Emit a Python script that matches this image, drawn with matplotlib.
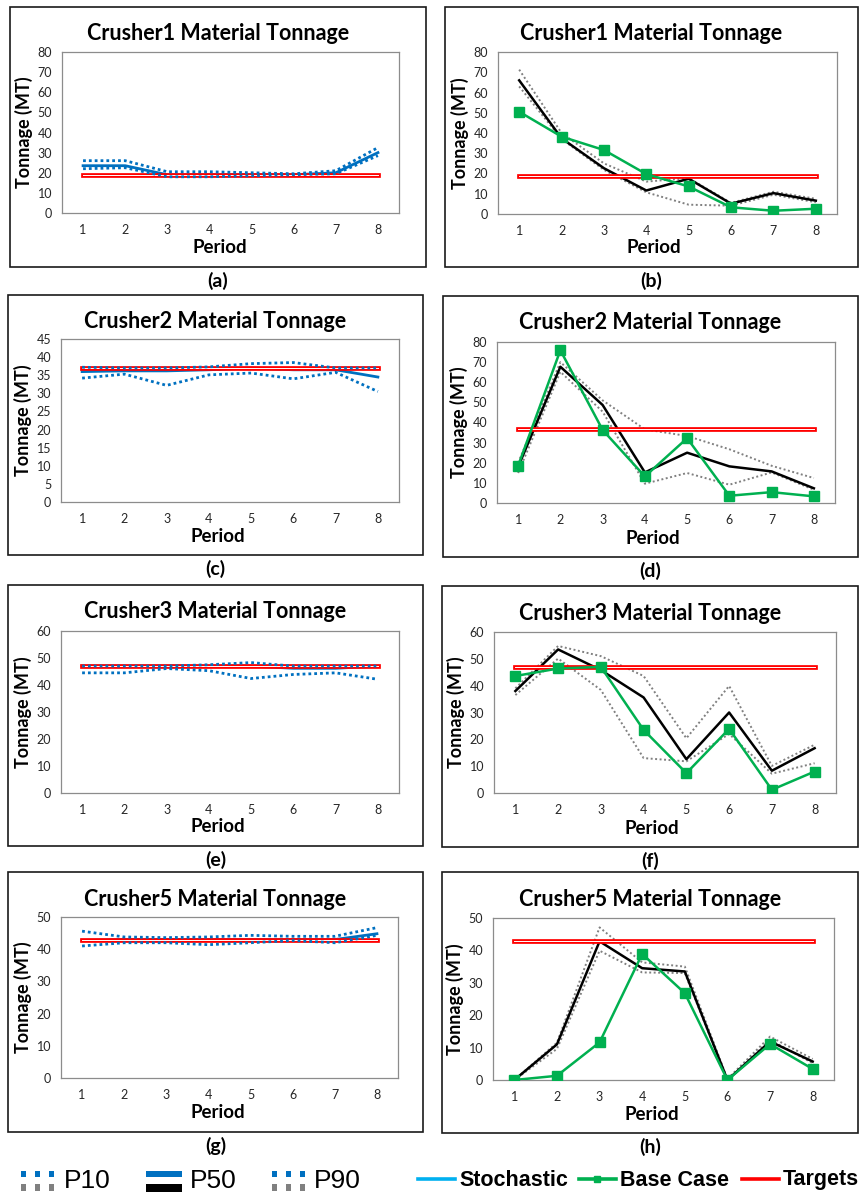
import matplotlib
matplotlib.use("Agg")
import matplotlib.pyplot as plt
from matplotlib.patches import Rectangle
from matplotlib.lines import Line2D
from matplotlib import font_manager

periods = [1, 2, 3, 4, 5, 6, 7, 8]

# Crusher1
c1_p10 = [22, 22.5, 18, 18, 18.5, 19, 19.5, 28.5]
c1_p50 = [23.5, 23.5, 19, 19, 19, 19, 20, 30]
c1_p90 = [26, 26, 20.5, 20.5, 20, 19.5, 21, 32.5]
c1_target = 19
c1_base = [50.5, 38.2, 31.6, 19.7, 13.6, 3.3, 1.6, 2.6]
c1_bc_p10 = [63, 37, 21.8, 10.7, 4.6, 4.1, 9.5, 5.8]
c1_bc_p50 = [66, 37.4, 22.6, 11.6, 17.4, 5.1, 10.3, 6.6]
c1_bc_p90 = [71.3, 40, 25, 16, 17.7, 5.5, 11, 7.5]

# Crusher2
c2_p10 = [34.2, 35.3, 32.2, 35.1, 35.6, 34, 35.8, 30.5]
c2_p50 = [36, 36.2, 36.2, 36.5, 37, 36.5, 36.5, 34.5]
c2_p90 = [37.2, 37, 37, 37.3, 38.2, 38.5, 37, 37]
c2_target = 37
c2_base = [18.5, 75.9, 36.3, 13.2, 32.2, 3.6, 5.4, 3.3]
c2_bc_p10 = [14.9, 65.2, 45.4, 9.6, 14.9, 9.1, 15.2, 6.6]
c2_bc_p50 = [18, 67.7, 48.7, 15.2, 25, 18.2, 15.7, 7.3]
c2_bc_p90 = [20, 70, 51, 36.6, 33.3, 26.7, 18.5, 12.4]

# Crusher3
c3_p10 = [44.5, 44.5, 46.1, 45.3, 42.4, 43.9, 44.5, 42.1]
c3_p50 = [47, 47, 47, 47, 47, 46.2, 46.2, 47]
c3_p90 = [47, 47, 47, 47.5, 48.3, 47, 47, 47]
c3_target = 47
c3_base = [43.6, 46.4, 47, 23.5, 7.4, 23.9, 1.2, 8]
c3_bc_p10 = [36.5, 50.1, 38.4, 13, 11.8, 22, 7.2, 11.1]
c3_bc_p50 = [38, 53.5, 45.8, 35.6, 12.6, 30, 8.3, 16.7]
c3_bc_p90 = [39, 54.8, 51, 43.6, 20.4, 39.9, 10.1, 18]

# Crusher5
c5_p10 = [41, 42, 42, 41.4, 42, 42.7, 42, 44.3]
c5_p50 = [42.7, 43, 43, 43, 43, 43, 43, 44.8]
c5_p90 = [45.6, 43.8, 43.6, 43.8, 44.3, 44, 44, 46.7]
c5_target = 43
c5_base = [0, 1.3, 11.6, 38.9, 26.8, 0, 11.1, 3.4]
c5_bc_p10 = [0, 9.6, 39.9, 33.2, 33, 0, 12.4, 5.2]
c5_bc_p50 = [0, 11, 42.8, 34.5, 33.5, 0, 11.9, 5.7]
c5_bc_p90 = [0, 11.5, 47.1, 36.3, 35, 0.3, 13.4, 6.5]

BLUE = "#0070C0"
LIGHT_BLUE = "#00B0F0"
GREEN = "#00B050"
RED = "#FF0000"
GRAY = "#808080"

W, H = 861, 1194
installed = {f.name for f in font_manager.fontManager.ttflist}
MAIN_FONT = ["Lato", "DejaVu Sans"] if "Lato" in installed else ["DejaVu Sans"]
plt.rcParams["font.family"] = MAIN_FONT

fig = plt.figure(figsize=(W / 100, H / 100), dpi=100)


def fx(x):
    return x / W


def fy(y):
    return 1 - y / H


def add_panel(box, area, title, tag, ymax, ystep):
    x0, y0, x1, y1 = box
    fig.add_artist(Rectangle((fx(x0), fy(y1)), (x1 - x0) / W, (y1 - y0) / H,
                             transform=fig.transFigure, fill=False,
                             ec="#1a1a1a", lw=1.2))
    l, t, r, b = area
    ax = fig.add_axes([fx(l), fy(b), (r - l) / W, (b - t) / H])
    ax.set_xlim(0.5, 8.5)
    ax.set_ylim(0, ymax)
    ax.set_xticks(periods)
    ax.set_yticks(range(0, ymax + 1, ystep))
    ax.tick_params(length=0, labelsize=9, colors="#262626")
    ax.tick_params(axis="y", pad=7)
    ax.tick_params(axis="x", pad=8)
    for s in ax.spines.values():
        s.set_color("#8c8c8c")
        s.set_linewidth(0.9)
    cx = (x0 + x1) / 2
    fig.text(fx(cx), fy(y0 + 27), title, ha="center", va="center",
             fontsize=15.5, fontweight="bold")
    fig.text(fx(cx + 2), fy(y1 - 19), "Period", ha="center", va="center",
             fontsize=13.5, fontweight="bold")
    fig.text(fx(l - 38), fy((t + b) / 2), "Tonnage (MT)", ha="center",
             va="center", rotation=90, fontsize=13, fontweight="bold")
    fig.text(fx(cx), fy(y1 + 14), tag, ha="center", va="center",
             fontsize=14, fontweight="bold")
    return ax


def draw_target(ax, target):
    # red line with a thin white core
    ax.plot(periods, [target] * len(periods), color=RED, lw=3.4, zorder=4)
    ax.plot(periods, [target] * len(periods), color="white", lw=0.7, zorder=4)


def draw_stochastic(ax, p10, p50, p90, target):
    ax.plot(periods, p50, color=BLUE, lw=2.0, zorder=3)
    draw_target(ax, target)
    for band in (p10, p90):
        ax.plot(periods, band, color=BLUE, lw=2.0, ls=(0, (1, 1.1)), zorder=5)


def draw_base(ax, base, p10, p50, p90, target):
    for band in (p10, p90):
        ax.plot(periods, band, color=GRAY, lw=1.4, ls=(0, (1, 1.3)), zorder=2)
    ax.plot(periods, p50, color="black", lw=1.8, zorder=3)
    draw_target(ax, target)
    ax.plot(periods, base, color=GREEN, lw=1.8, marker="s", ms=6.5,
            zorder=5)


# left column: stochastic schedule, right column: base case schedule
ax = add_panel((10, 7, 426, 267), (62, 52, 399, 213),
               "Crusher1 Material Tonnage", "(a)", 80, 10)
draw_stochastic(ax, c1_p10, c1_p50, c1_p90, c1_target)
ax = add_panel((445, 7, 858, 267), (498, 52, 837, 214),
               "Crusher1 Material Tonnage", "(b)", 80, 10)
draw_base(ax, c1_base, c1_bc_p10, c1_bc_p50, c1_bc_p90, c1_target)

ax = add_panel((8, 295, 423, 555), (61, 339, 399, 502),
               "Crusher2 Material Tonnage", "(c)", 45, 5)
draw_stochastic(ax, c2_p10, c2_p50, c2_p90, c2_target)
ax = add_panel((443, 296, 858, 557), (497, 342, 835, 503),
               "Crusher2 Material Tonnage", "(d)", 80, 10)
draw_base(ax, c2_base, c2_bc_p10, c2_bc_p50, c2_bc_p90, c2_target)

ax = add_panel((8, 585, 423, 846), (61, 631, 399, 793),
               "Crusher3 Material Tonnage", "(e)", 60, 10)
draw_stochastic(ax, c3_p10, c3_p50, c3_p90, c3_target)
ax = add_panel((442, 586, 858, 847), (494, 632, 836, 793),
               "Crusher3 Material Tonnage", "(f)", 60, 10)
draw_base(ax, c3_base, c3_bc_p10, c3_bc_p50, c3_bc_p90, c3_target)

ax = add_panel((8, 872, 423, 1132), (61, 917, 398, 1078),
               "Crusher5 Material Tonnage", "(g)", 50, 10)
draw_stochastic(ax, c5_p10, c5_p50, c5_p90, c5_target)
ax = add_panel((442, 872, 858, 1133), (493, 918, 834, 1080),
               "Crusher5 Material Tonnage", "(h)", 50, 10)
draw_base(ax, c5_base, c5_bc_p10, c5_bc_p50, c5_bc_p90, c5_target)

# shared legend along the bottom
LEG_FONT = ["Liberation Sans", "DejaVu Sans"]


def pixel_rect(x, y, w, h, color):
    fig.add_artist(Rectangle((fx(x), fy(y + h)), w / W, h / H,
                             transform=fig.transFigure, color=color, lw=0))


def dotted_icon(x):
    for i in range(3):
        pixel_rect(x + i * 14, 1171, 5, 6, BLUE)
        pixel_rect(x + i * 14, 1184, 5, 7, GRAY)


dotted_icon(21)
fig.text(fx(64), fy(1181), "P10", ha="left", va="center", fontsize=19,
         family=LEG_FONT)
pixel_rect(146, 1171, 36, 6, BLUE)
pixel_rect(146, 1184, 36, 8, "black")
fig.text(fx(190), fy(1181), "P50", ha="left", va="center", fontsize=19,
         family=LEG_FONT)
dotted_icon(272)
fig.text(fx(314), fy(1181), "P90", ha="left", va="center", fontsize=19,
         family=LEG_FONT)

for x0, color, marker, text in [(418, LIGHT_BLUE, None, "Stochastic"),
                                (579, GREEN, "s", "Base Case"),
                                (742, RED, None, "Targets")]:
    fig.add_artist(Line2D([fx(x0), fx(x0 + 37)], [fy(1179), fy(1179)],
                          transform=fig.transFigure, color=color, lw=2.6))
    if marker:
        fig.add_artist(Line2D([fx(x0 + 18)], [fy(1179)],
                              transform=fig.transFigure, color=color,
                              marker=marker, ms=4.5, lw=0))
    fig.text(fx(x0 + 41), fy(1180), text, ha="left", va="center",
             fontsize=15.5, fontweight="bold", family=LEG_FONT)

fig.savefig("out.png", dpi=100, facecolor="white")
